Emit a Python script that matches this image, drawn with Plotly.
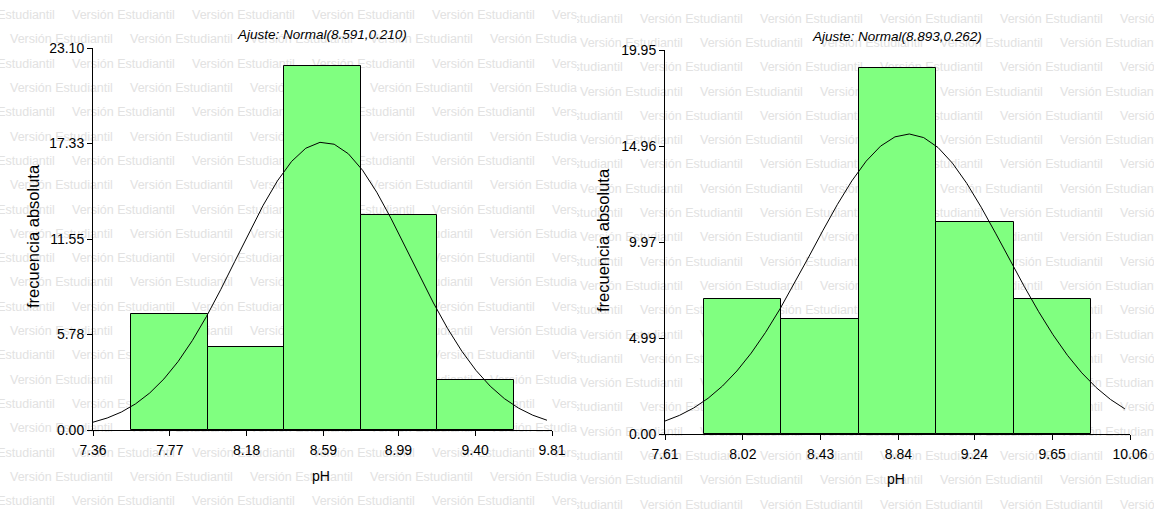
import numpy as np
import plotly.graph_objects as go

W, H = 1154, 511

# ---------------- data: muestra 1 ----------------
ph_ticks_1 = [7.36, 7.77, 8.18, 8.59, 8.99, 9.40, 9.81]
ph_tick_text_1 = ["7.36", "7.77", "8.18", "8.59", "8.99", "9.40", "9.81"]
counts_1 = [7, 5, 22, 13, 3]
freq_ticks_1 = [0.0, 5.775, 11.55, 17.325, 23.10]
freq_tick_text_1 = ["0.00", "5.78", "11.55", "17.33", "23.10"]
fit_mean_1 = 8.591
fit_var_1 = 0.210

# ---------------- data: muestra 2 ----------------
ph_ticks_2 = [7.61, 8.02, 8.43, 8.84, 9.24, 9.65, 10.06]
ph_tick_text_2 = ["7.61", "8.02", "8.43", "8.84", "9.24", "9.65", "10.06"]
counts_2 = [7, 6, 19, 11, 7]
freq_ticks_2 = [0.0, 4.9875, 9.975, 14.9625, 19.95]
freq_tick_text_2 = ["0.00", "4.99", "9.97", "14.96", "19.95"]
fit_mean_2 = 8.893
fit_var_2 = 0.262

WATERMARK = "Versión Estudiantil"

BAR_FILL = "#80ff80"
WM_COLOR = "#e2e2e2"
FONT = "Liberation Sans, Arial, sans-serif"
WM_FONT = "Liberation Sans, Arial, sans-serif"


def px(x):
    return x / W


def py(y):
    return 1 - y / H


fig = go.Figure()

# ---------- background watermark (two panels, each clipped to its own area) ----------
def watermark(x0_a, x0_b, y0, x_lo, x_hi):
    xs, ys, ts = [], [], []
    for r in range(22):
        yy = y0 + r * 24.3
        start = x0_a if r % 2 == 0 else x0_b
        x = start
        while x < x_hi + 5:
            if x + 130 > x_lo:
                xs.append(x)
                ys.append(yy)
                ts.append(WATERMARK)
            x += 120
    return xs, ys, ts


panels_bg = [
    dict(xa="x", ya="y", lo=0, hi=577, a=-48, b=10, y0=16),
    dict(xa="x2", ya="y2", lo=577, hi=W, a=520, b=580, y0=19.5),
]
for i, p in enumerate(panels_bg):
    xs, ys, ts = watermark(p["a"], p["b"], p["y0"], p["lo"], p["hi"])
    fig.add_trace(go.Scatter(
        x=xs, y=ys, text=ts, mode="text", textposition="middle right",
        textfont=dict(family=WM_FONT, size=12.5, color=WM_COLOR),
        xaxis=p["xa"], yaxis=p["ya"], hoverinfo="skip", showlegend=False,
        cliponaxis=True,
    ))
    sfx = "" if i == 0 else "2"
    hidden = dict(visible=False, showgrid=False, zeroline=False, fixedrange=True,
                  automargin=False)
    fig.layout["xaxis" + sfx] = dict(domain=[px(p["lo"]), px(p["hi"])], range=[p["lo"], p["hi"]],
                                     anchor="y" + sfx, **hidden)
    fig.layout["yaxis" + sfx] = dict(domain=[0, 1], range=[H, 0], anchor="x" + sfx, **hidden)

# ---------- histogram panels ----------
panels = [
    dict(ticks=ph_ticks_1, tick_text=ph_tick_text_1, counts=counts_1,
         fticks=freq_ticks_1, ftext=freq_tick_text_1, mean=fit_mean_1, var=fit_var_1,
         xd=(93, 552), yd=(48, 430), n="3"),
    dict(ticks=ph_ticks_2, tick_text=ph_tick_text_2, counts=counts_2,
         fticks=freq_ticks_2, ftext=freq_tick_text_2, mean=fit_mean_2, var=fit_var_2,
         xd=(665, 1130), yd=(50, 434), n="4"),
]

for p in panels:
    lo, hi = p["ticks"][0], p["ticks"][-1]
    width = (hi - lo) / 6
    centers = [lo + width * (k + 1) for k in range(len(p["counts"]))]
    fig.add_trace(go.Bar(
        x=centers, y=p["counts"], width=width,
        marker=dict(color=BAR_FILL, line=dict(color="black", width=1)),
        xaxis="x" + p["n"], yaxis="y" + p["n"], showlegend=False, hoverinfo="skip",
    ))

    # fitted normal curve, expected counts per 0.4 pH unit
    sd = np.sqrt(p["var"])
    n_obs = sum(p["counts"])
    xc = np.linspace(lo, lo + 0.989 * (hi - lo), 33)
    yc = n_obs * 0.40 * np.exp(-0.5 * ((xc - p["mean"]) / sd) ** 2) / (sd * np.sqrt(2 * np.pi))
    fig.add_trace(go.Scatter(
        x=xc, y=yc, mode="lines", line=dict(color="black", width=1),
        xaxis="x" + p["n"], yaxis="y" + p["n"], showlegend=False, hoverinfo="skip",
        cliponaxis=False,
    ))

    axis_common = dict(showline=True, linecolor="black", linewidth=1, ticks="outside",
                       ticklen=5, tickwidth=1, tickcolor="black", showgrid=False,
                       zeroline=False, fixedrange=True, automargin=False,
                       tickfont=dict(family=FONT, size=14, color="black"))
    fig.layout["xaxis" + p["n"]] = dict(
        domain=[px(p["xd"][0]), px(p["xd"][1])], range=[lo, hi], anchor="y" + p["n"],
        tickmode="array", tickvals=p["ticks"], ticktext=p["tick_text"],
        ticklabelstandoff=2, **axis_common)
    fig.layout["yaxis" + p["n"]] = dict(
        domain=[py(p["yd"][1]), py(p["yd"][0])], range=[0, p["fticks"][-1]],
        anchor="x" + p["n"], tickmode="array", tickvals=p["fticks"],
        ticktext=p["ftext"], **axis_common)

# ---------- titles and axis labels ----------
annotations = []
for title, cx, cy in [
    (f"Ajuste: Normal({fit_mean_1:.3f},{fit_var_1:.3f})", 322, 34),
    (f"Ajuste: Normal({fit_mean_2:.3f},{fit_var_2:.3f})", 897, 37),
]:
    annotations.append(dict(text=f"<i>{title}</i>", x=px(cx), y=py(cy), xref="paper", yref="paper",
                            showarrow=False, xanchor="center", yanchor="middle",
                            font=dict(family=FONT, size=13.5, color="black")))
for cx, cy in [(321, 476), (896, 479)]:
    annotations.append(dict(text="pH", x=px(cx), y=py(cy), xref="paper", yref="paper",
                            showarrow=False, xanchor="center", yanchor="middle",
                            font=dict(family=FONT, size=14, color="black")))
for cx, cy in [(33, 236), (603, 240)]:
    annotations.append(dict(text="frecuencia absoluta", x=px(cx), y=py(cy), xref="paper",
                            yref="paper", showarrow=False, textangle=-90,
                            xanchor="center", yanchor="middle",
                            font=dict(family=FONT, size=16.5, color="black")))

fig.update_layout(
    width=W, height=H, margin=dict(l=0, r=0, t=0, b=0),
    paper_bgcolor="white", plot_bgcolor="rgba(0,0,0,0)",
    bargap=0, showlegend=False, annotations=annotations,
)

fig.write_html("out.html", config={"displayModeBar": False})
